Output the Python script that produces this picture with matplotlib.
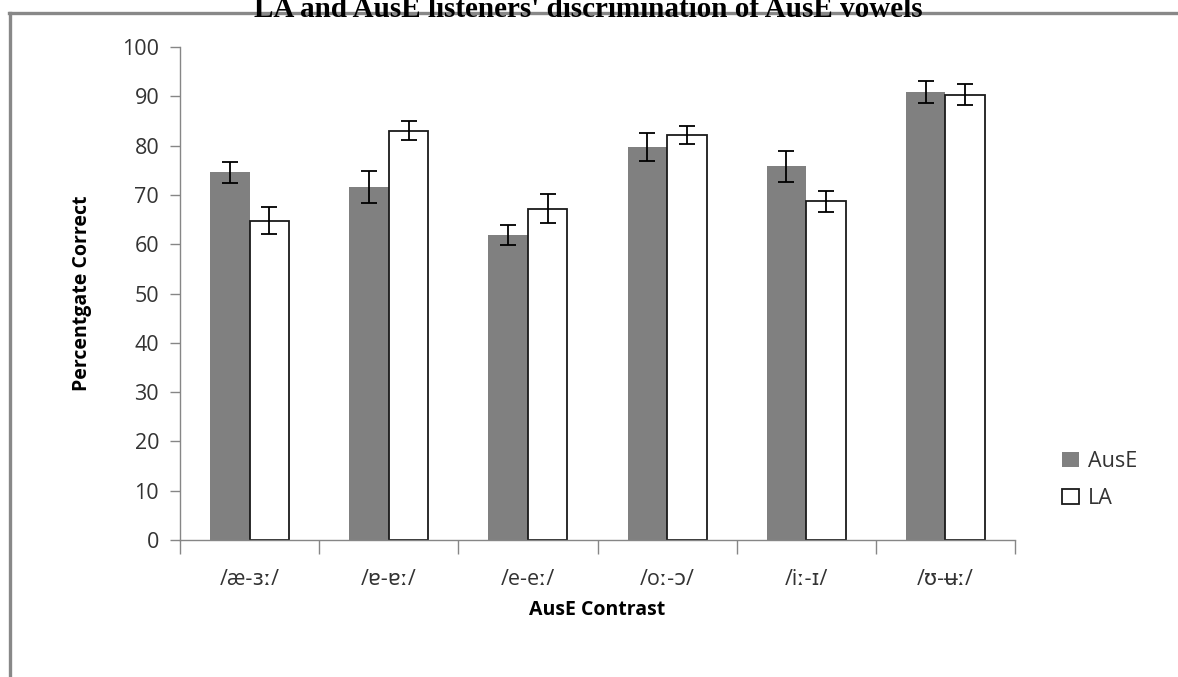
import matplotlib
matplotlib.use("Agg")
import matplotlib.pyplot as plt
from matplotlib.lines import Line2D
import numpy as np

# values
contrasts = ["/æ-ɜː/", "/ɐ-ɐː/", "/e-eː/", "/oː-ɔ/", "/iː-ɪ/", "/ʊ-ʉː/"]
ause = [74.6, 71.6, 61.9, 79.7, 75.8, 90.9]
ause_err = [2.1, 3.3, 2.0, 2.9, 3.2, 2.3]
la = [64.8, 83.0, 67.2, 82.1, 68.7, 90.3]
la_err = [2.7, 1.9, 2.9, 1.8, 2.1, 2.1]

fonts = ["Open Sans", "DejaVu Sans"]
plt.rcParams["font.family"] = fonts
text_col = "#333333"
axis_col = "#868686"

fig = plt.figure(figsize=(11.78, 6.77), dpi=100)
ax = fig.add_axes([180 / 1178, 1 - 540 / 677, (1015 - 180) / 1178, (540 - 47) / 677])

x = np.arange(len(contrasts))
w = 0.284
err_kw = dict(ecolor="black", elinewidth=1.3, capthick=1.3)
ax.bar(x - w / 2, ause, w, color="#808080", edgecolor="none", label="AusE",
       yerr=ause_err, capsize=6, error_kw=err_kw)
ax.bar(x + w / 2, la, w, color="white", edgecolor="#1a1a1a", linewidth=1.3, label="LA",
       yerr=la_err, capsize=6, error_kw=err_kw)

ax.set_xlim(-0.5, len(contrasts) - 0.5)
ax.set_ylim(0, 100)
ax.set_yticks(range(0, 101, 10))
ax.set_xticks(x)
ax.set_xticklabels(contrasts)
ax.set_xticks(np.arange(-0.5, len(contrasts), 1), minor=True)
ax.tick_params(axis="x", which="major", length=0, pad=21, labelsize=15.5, labelcolor=text_col)
ax.tick_params(axis="x", which="minor", length=10, width=1, color=axis_col)
ax.tick_params(axis="y", length=7, width=1, color=axis_col, pad=8, labelsize=15.5, labelcolor=text_col)

for side in ["top", "right"]:
    ax.spines[side].set_visible(False)
for side in ["left", "bottom"]:
    ax.spines[side].set_color(axis_col)
    ax.spines[side].set_linewidth(1)

ax.set_ylabel("Percentgate Correct", fontsize=14, fontweight="bold", color="black", labelpad=22)
ax.set_xlabel("AusE Contrast", fontsize=14, fontweight="bold", color="black", labelpad=7)

fig.legend(loc="center left", bbox_to_anchor=(1043 / 1178, 1 - 480 / 677), frameon=False,
           handlelength=0.75, handleheight=0.75, handletextpad=0.45, labelspacing=0.75,
           fontsize=15.5, labelcolor=text_col)

# title is cut off at the top edge in the original
fig.text(588 / 1178, 1 - 17 / 677, "LA and AusE listeners' discrimination of AusE vowels",
         ha="center", va="baseline", fontsize=21, fontweight="bold",
         family=["Liberation Serif", "DejaVu Serif"])

# grey frame around the chart (only top and left edges show)
fig.add_artist(Line2D([9 / 1178, 1], [1 - 13 / 677, 1 - 13 / 677], color="#888888", lw=2.4))
fig.add_artist(Line2D([9.5 / 1178, 9.5 / 1178], [0, 1 - 13 / 677], color="#888888", lw=2.4))

fig.savefig("out.png", dpi=100)
